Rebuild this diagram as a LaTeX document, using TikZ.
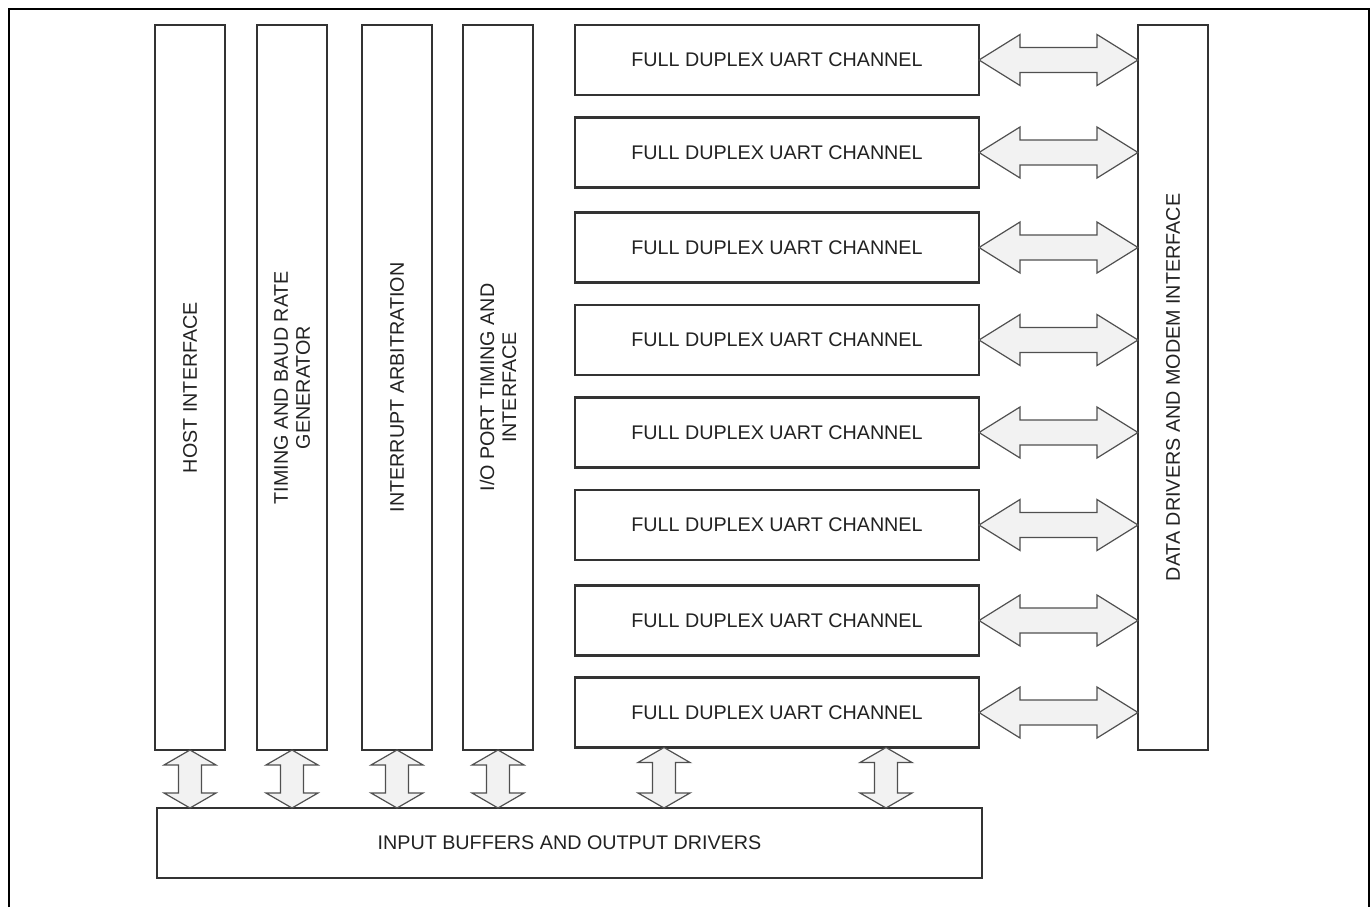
\documentclass[tikz,border=0pt]{standalone}
\usepackage{fontspec}
\setmainfont{Liberation Sans}
\usetikzlibrary{calc}
\definecolor{boxline}{HTML}{333333}
\definecolor{arrline}{HTML}{505050}
\definecolor{arrfill}{HTML}{F2F2F2}
\definecolor{txt}{HTML}{222222}
% horizontal double arrow from named point #1 (left) to #2 (right)
\newcommand{\harr}[2]{%
  \draw[arrshape] (#1) -- ($(#1)+(41,-25.5)$) -- ($(#1)+(41,-12.5)$) -- ($(#2)+(-41,-12.5)$)
    -- ($(#2)+(-41,-25.5)$) -- (#2) -- ($(#2)+(-41,25.5)$) -- ($(#2)+(-41,12.5)$)
    -- ($(#1)+(41,12.5)$) -- ($(#1)+(41,25.5)$) -- cycle;}
% vertical double arrow from named point #1 (top) to #2 (bottom)
\newcommand{\varr}[2]{%
  \draw[arrshape] (#1) -- ($(#1)+(26,15)$) -- ($(#1)+(11.5,15)$) -- ($(#2)+(11.5,-15)$)
    -- ($(#2)+(26,-15)$) -- (#2) -- ($(#2)+(-26,-15)$) -- ($(#2)+(-11.5,-15)$)
    -- ($(#1)+(-11.5,15)$) -- ($(#1)+(-26,15)$) -- cycle;}
\begin{document}
\begin{tikzpicture}[x=0.75pt,y=-0.75pt,
  blk/.style={draw=boxline, line width=1.8pt, fill=white, inner sep=0pt, outer sep=0pt,
    text=txt, font=\fontsize{14.8}{16.5}\selectfont, align=center},
  vblk/.style={blk, minimum width=52.5pt, minimum height=543.75pt},
  ublk/.style={blk, minimum width=303pt, minimum height=52.5pt},
  vlab/.style={rotate=90, text=txt, font=\fontsize{14.8}{16.5}\selectfont, align=center},
  arrshape/.style={draw=arrline, line width=0.9pt, fill=arrfill, line join=miter},
  frame/.style={draw=black, line width=1.5pt}]
\useasboundingbox (0,0) rectangle (1370,907);
\fill[white] (0,0) rectangle (1370,907);
\draw[frame] (9,907) -- (9,9) -- (1369,9) -- (1369,907);

% vertical blocks
\node[vblk] (host) at (190,387.5) {};
\node[vlab] (hostl) at (host) {HOST INTERFACE};
\node[vblk] (timing) at (292,387.5) {};
\node[vlab] (timingl) at (timing) {TIMING AND BAUD RATE\\GENERATOR};
\node[vblk] (intr) at (397,387.5) {};
\node[vlab] (intrl) at (intr) {INTERRUPT ARBITRATION};
\node[vblk] (io) at (498,387.5) {};
\node[vlab] (iol) at (io) {I/O PORT TIMING AND\\INTERFACE};
\node[vblk] (dd) at (1173,387.5) {};
\node[vlab] (ddl) at (dd) {DATA DRIVERS AND MODEM INTERFACE};

% UART channels
\foreach \i/\y in {1/60,2/152.5,3/247.5,4/340,5/432.5,6/525,7/620.5,8/712.5}{
  \node[ublk] (u\i) at (777,\y) {FULL DUPLEX UART CHANNEL};
}

% bottom block
\node[blk, minimum width=618.75pt, minimum height=52.5pt] (ib) at (569.5,843)
  {INPUT BUFFERS AND OUTPUT DRIVERS};

% horizontal arrows
\foreach \i in {1,...,8}{
  \coordinate (hl\i) at (u\i.east);
  \coordinate (hr\i) at (dd.west |- u\i.east);
  \harr{hl\i}{hr\i}
}

% vertical arrows
\foreach \n in {host,timing,intr,io}{
  \coordinate (vt\n) at (\n.south);
  \coordinate (vb\n) at (\n.south |- ib.north);
  \varr{vt\n}{vb\n}
}
\coordinate (vtc1) at ($(u8.south west)+(89,0)$);
\coordinate (vbc1) at (vtc1 |- ib.north);
\varr{vtc1}{vbc1}
\coordinate (vtc2) at ($(u8.south east)+(-93,0)$);
\coordinate (vbc2) at (vtc2 |- ib.north);
\varr{vtc2}{vbc2}
\end{tikzpicture}
\end{document}
